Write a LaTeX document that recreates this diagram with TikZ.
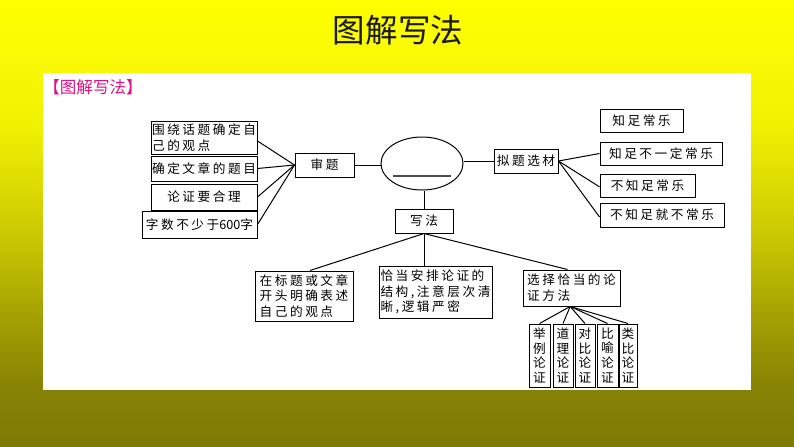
\documentclass[tikz,border=0pt]{standalone}
\usepackage{fontspec}
\usetikzlibrary{calc,shapes.geometric}
\newfontfamily\cjk[LetterSpace=20]{Noto Sans CJK SC}
\newfontfamily\cjkplain{Noto Sans CJK SC}
\definecolor{tagpink}{HTML}{DE1285}
\definecolor{fadea}{HTML}{7F7A05}
\definecolor{fadeb}{HTML}{868205}
\definecolor{fadec}{HTML}{A5A203}
\definecolor{faded}{HTML}{C8C602}
\definecolor{fadee}{HTML}{F0F002}
\definecolor{fadef}{HTML}{FAFA05}
\definecolor{fadeg}{HTML}{FFFF00}
\pgfdeclareverticalshading{slidefade}{100bp}{
	color(0bp)=(fadea);
	color(25bp)=(fadea);
	color(31.4bp)=(fadeb);
	color(40bp)=(fadec);
	color(48bp)=(faded);
	color(60.5bp)=(fadee);
	color(69bp)=(fadef);
	color(75bp)=(fadeg);
	color(100bp)=(fadeg)}
\tikzset{
	boxtext/.style={font=\fontsize{9.5}{11.8}\selectfont\cjk, align=center, inner sep=0pt},
	wordbox/.style 2 args={boxtext, draw=black, line width=0.75pt, fill=white, minimum width=#1*0.75pt, minimum height=#2*0.75pt},
	stackbox/.style 2 args={wordbox={#1}{#2}, font=\fontsize{9.5}{11.2}\selectfont\cjk},
	tie/.style={line width=0.75pt}
}

\begin{document}
\begin{tikzpicture}[x=0.75pt, y=-0.75pt]
			%%%%% START %%%%%
			
			\useasboundingbox (0, 0) rectangle (794, 447);
			\shade[shading=slidefade] (0, 0) rectangle (794, 447);
			\fill[white] (43, 73) rectangle (751, 390);
			
			\node[font=\fontsize{24.4}{28}\selectfont\cjkplain, text=black!90] (title) at (398, 30) {图解写法};
			\node[font=\fontsize{12.4}{14}\selectfont\cjkplain, text=tagpink] (tag) at (93, 87) {【图解写法】};
			
			\node[wordbox={106}{33}, align=left] (aim) at (204, 137.5) {围绕话题确定自\\己的观点};
			\node[wordbox={106}{25}] (name) at (204, 168.5) {确定文章的题目};
			\node[wordbox={106}{26}] (logic) at (204, 197) {论证要合理};
			\node[wordbox={115}{27}] (count) at (199.5, 224.5) {字数不少于{\cjkplain 600}字};
			\node[wordbox={59}{24}] (review) at (324.5, 165) {审题};
			
			\node[draw=black, line width=0.75pt, ellipse, minimum width=61.5pt, minimum height=39.75pt, inner sep=0pt] (topic) at (422, 163.5) {};
			\coordinate (blankl) at (393, 176);
			\coordinate (blankr) at (451, 176);
			\draw[line width=1pt, color=black!70] (blankl) -- (blankr);
			
			\node[wordbox={64}{24}] (choose) at (526, 161) {拟题选材};
			\node[wordbox={83}{23}] (one) at (641.5, 120.5) {知足常乐};
			\node[wordbox={122}{23}] (two) at (661, 153.5) {知足不一定常乐};
			\node[wordbox={95}{23}] (three) at (647.5, 185.5) {不知足常乐};
			\node[wordbox={124}{24}] (four) at (662, 215) {不知足就不常乐};
			
			\node[wordbox={58}{24}] (write) at (424, 221) {写法};
			\node[wordbox={98}{50}, align=left] (open) at (304, 296) {在标题或文章\\开头明确表述\\自己的观点};
			\node[wordbox={113}{52}, align=left] (frame) at (435.5, 292) {恰当安排论证的\\结构,注意层次清\\晰,逻辑严密};
			\node[wordbox={97}{36}, align=left] (method) at (571.5, 288) {选择恰当的论\\证方法};
			
			\node[stackbox={21}{63}] (m1) at (539.5, 355.5) {举\\例\\论\\证};
			\node[stackbox={20}{63}] (m2) at (563, 355.5) {道\\理\\论\\证};
			\node[stackbox={20}{63}] (m3) at (585, 355.5) {对\\比\\论\\证};
			\node[stackbox={21}{63}] (m4) at (607.5, 355.5) {比\\喻\\论\\证};
			\node[stackbox={18}{63}] (m5) at (628, 355.5) {类\\比\\论\\证};
			
			\draw[tie] ([yshift=-2.6pt]aim.east) -- (review.west);
			\draw[tie] (name.east) -- (review.west);
			\draw[tie] (logic.east) -- (review.west);
			\draw[tie] (count.east) -- (review.west);
			\draw[tie] (review.east) -- (review.east -| topic.west);
			\draw[tie] (choose.west) -- (choose.west -| topic.east);
			\draw[tie] (write.north) -- (write.north |- topic.south);
			
			\draw[tie] (choose.east) -- (two.west);
			\draw[tie] (choose.east) -- ([yshift=-1pt]three.west);
			\draw[tie] (choose.east) -- ([yshift=-1.5pt]four.west);
			
			\draw[tie] (write.south) -- ([xshift=4.5pt]open.north);
			\draw[tie] (write.south) -- (write.south |- frame.north);
			\draw[tie] (write.south) -- ([xshift=-3pt]method.north);
			
			\draw[tie] ([xshift=-1pt]method.south) -- (m1.north);
			\draw[tie] ([xshift=-1pt]method.south) -- (m2.north);
			\draw[tie] ([xshift=-1pt]method.south) -- (m3.north);
			\draw[tie] ([xshift=-1pt]method.south) -- (m4.north);
			\draw[tie] ([xshift=-1pt]method.south) -- (m5.north);
			
			%%%%% END %%%%%
		\end{tikzpicture}
\end{document}
